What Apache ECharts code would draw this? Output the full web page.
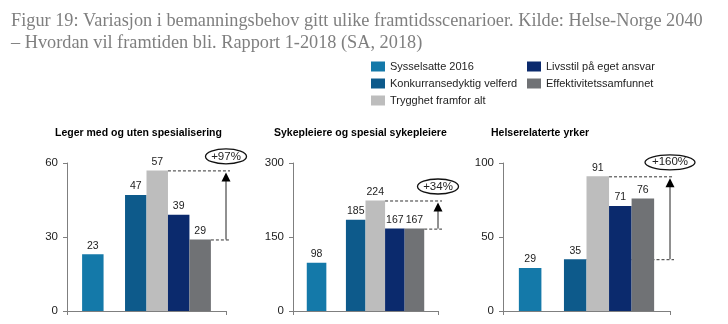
<!DOCTYPE html>
<html>
<head>
<meta charset="utf-8">
<script src="https://cdn.jsdelivr.net/npm/echarts@6/dist/echarts.min.js"></script>
<style>
  html, body { margin: 0; padding: 0; background: #ffffff; }
  #chart { width: 728px; height: 324px; }
</style>
</head>
<body>
<div id="chart"></div>
<script>
// Scenario names (legend) and panel headings
const scenarios = [
  'Sysselsatte 2016',
  'Konkurransedyktig velferd',
  'Trygghet framfor alt',
  'Livsstil på eget ansvar',
  'Effektivitetssamfunnet'
];
const panelTitles = [
  'Leger med og uten spesialisering',
  'Sykepleiere og spesial sykepleiere',
  'Helserelaterte yrker'
];

// Staffing need (thousands) per panel, one array per scenario
const sysselsatte2016 = [23, 98, 29];
const konkurransedyktigVelferd = [47, 185, 35];
const trygghetFramforAlt = [57, 224, 91];
const livsstilPaEgetAnsvar = [39, 167, 71];
const effektivitetssamfunnet = [29, 167, 76];

// Value-axis ticks per panel
const axisTicks = [
  [0, 30, 60],
  [0, 150, 300],
  [0, 50, 100]
];

const seriesValues = [
  sysselsatte2016,
  konkurransedyktigVelferd,
  trygghetFramforAlt,
  livsstilPaEgetAnsvar,
  effektivitetssamfunnet
];

const colors = ['#1479a9', '#0d5a8b', '#bdbdbd', '#0b2a6d', '#707275'];
const gridBoxes = [
  { left: 67, width: 159 },
  { left: 293, width: 145 },
  { left: 503, width: 167 }
];
const FONT = 'Liberation Sans, Arial, sans-serif';

const chart = echarts.init(document.getElementById('chart'), null, { renderer: 'canvas' });

const grids = [], xAxes = [], yAxes = [], series = [], titles = [];

titles.push({
  text: 'Figur 19: Variasjon i bemanningsbehov gitt ulike framtidsscenarioer. Kilde: Helse-Norge 2040\n– Hvordan vil framtiden bli. Rapport 1-2018 (SA, 2018)',
  left: 6,
  top: 5,
  textStyle: {
    fontFamily: 'Liberation Serif, serif',
    fontSize: 18.3,
    fontWeight: 'normal',
    color: '#7f7f7f',
    lineHeight: 22
  }
});

panelTitles.forEach((t, g) => {
  titles.push({
    text: t,
    left: [50, 269, 486][g],
    top: 123,
    textStyle: { fontFamily: FONT, fontSize: 10.5, fontWeight: 'bold', color: '#000' }
  });

  grids.push({ left: gridBoxes[g].left, width: gridBoxes[g].width, top: 163, height: 148 });

  xAxes.push({
    type: 'category',
    gridIndex: g,
    data: [''],
    axisLine: { lineStyle: { color: '#7f7f7f', width: 1 } },
    axisTick: { show: true, length: 4, lineStyle: { color: '#7f7f7f' } },
    axisLabel: { show: false }
  });

  const ticks = axisTicks[g];
  yAxes.push({
    type: 'value',
    gridIndex: g,
    min: ticks[0],
    max: ticks[ticks.length - 1],
    interval: ticks[1] - ticks[0],
    axisLine: { show: true, lineStyle: { color: '#7f7f7f', width: 1 } },
    axisTick: { show: true, length: 4, lineStyle: { color: '#7f7f7f' } },
    splitLine: { show: false },
    axisLabel: { fontFamily: FONT, fontSize: 11.5, color: '#222', margin: 9 }
  });

  seriesValues.forEach((vals, s) => {
    series.push({
      type: 'bar',
      name: scenarios[s],
      xAxisIndex: g,
      yAxisIndex: g,
      data: [vals[g]],
      barGap: '0%',
      barCategoryGap: '19%',
      itemStyle: { color: colors[s] },
      label: {
        show: true,
        position: 'top',
        distance: 3,
        fontFamily: FONT,
        fontSize: 10.5,
        color: '#222'
      },
      animation: false
    });
    // empty slot separating today's level from the 2040 scenarios
    if (s === 0) {
      series.push({
        type: 'bar',
        name: 'gap',
        xAxisIndex: g,
        yAxisIndex: g,
        data: ['-'],
        barGap: '0%',
        barCategoryGap: '19%',
        silent: true,
        animation: false
      });
    }
  });
});

const legendText = { fontFamily: FONT, fontSize: 11, color: '#222' };
const option = {
  backgroundColor: '#ffffff',
  animation: false,
  title: titles,
  legend: [
    {
      orient: 'vertical',
      left: 366, top: 56,
      itemWidth: 14, itemHeight: 10, itemGap: 6,
      icon: 'rect',
      data: scenarios.slice(0, 3),
      textStyle: legendText,
      selectedMode: false
    },
    {
      orient: 'vertical',
      left: 522, top: 56,
      itemWidth: 14, itemHeight: 10, itemGap: 6,
      icon: 'rect',
      data: scenarios.slice(3),
      textStyle: legendText,
      selectedMode: false
    }
  ],
  grid: grids,
  xAxis: xAxes,
  yAxis: yAxes,
  series: series
};

chart.setOption(option);

// Growth annotations: dashed guides, arrow and circled percentage
function seriesIndexOf(g, s) {
  // six bar series per panel (five scenarios + one spacer after the first)
  return g * 6 + (s === 0 ? 0 : s + 1);
}

const model = chart.getModel();
const graphics = [];
gridBoxes.forEach((box, g) => {
  const vals = seriesValues.map(v => v[g]);
  const future = vals.slice(1);
  const hi = Math.max(...future);
  const lo = Math.min(...future);
  const hiIdx = vals.indexOf(hi, 1);
  const loIdx = vals.lastIndexOf(lo);

  const rect = model.getComponent('grid', g).coordinateSystem.getRect();
  const xr = rect.x + rect.width;
  const yHi = chart.convertToPixel({ gridIndex: g }, [0, hi])[1];
  const yLo = chart.convertToPixel({ gridIndex: g }, [0, lo])[1];

  const layHi = model.getSeriesByIndex(seriesIndexOf(g, hiIdx)).getData().getItemLayout(0);
  const layLo = model.getSeriesByIndex(seriesIndexOf(g, loIdx)).getData().getItemLayout(0);

  const dash = { stroke: '#333', lineWidth: 1, lineDash: [3, 2] };
  graphics.push({
    type: 'line', z: 1, silent: true,
    shape: { x1: layHi.x + layHi.width, y1: yHi + 0.5, x2: xr + 4, y2: yHi + 0.5 },
    style: dash
  });
  graphics.push({
    type: 'line', z: 1, silent: true,
    shape: { x1: layLo.x + layLo.width, y1: yLo + 0.5, x2: xr + 4, y2: yLo + 0.5 },
    style: dash
  });
  // arrow shaft and head
  graphics.push({
    type: 'line', z: 20, silent: true,
    shape: { x1: xr, y1: yLo, x2: xr, y2: yHi + 8 },
    style: { stroke: '#222', lineWidth: 1 }
  });
  graphics.push({
    type: 'polygon', z: 20, silent: true,
    shape: { points: [[xr, yHi + 2], [xr - 4.5, yHi + 11], [xr + 4.5, yHi + 11]] },
    style: { fill: '#000' }
  });

  const pct = '+' + Math.round((hi / lo - 1) * 100) + '%';
  const rx = pct.length > 4 ? 25 : 20.5;
  graphics.push({
    type: 'ellipse', z: 20, silent: true,
    shape: { cx: xr, cy: yHi - 14, rx: rx, ry: 7.5 },
    style: { fill: '#fff', stroke: '#111', lineWidth: 1.3 }
  });
  graphics.push({
    type: 'text', z: 21, silent: true,
    x: xr, y: yHi - 14,
    style: {
      text: pct, fill: '#222', font: '11.5px ' + FONT,
      textAlign: 'center', textVerticalAlign: 'middle'
    }
  });
});

chart.setOption({ graphic: graphics });
</script>
</body>
</html>
